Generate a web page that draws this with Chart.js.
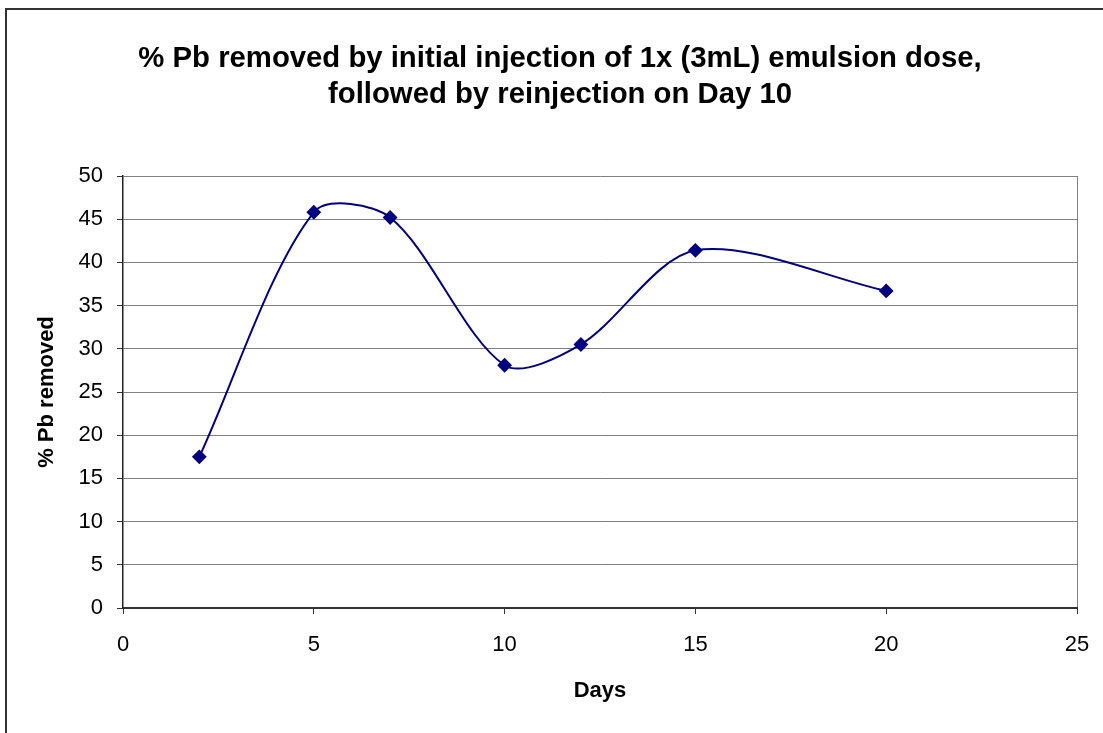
<!DOCTYPE html>
<html>
<head>
<meta charset="utf-8">
<script src="https://cdn.jsdelivr.net/npm/chart.js@4"></script>
<style>
  body { margin: 0; background: #fff; }
  #wrap { position: relative; width: 1103px; height: 733px; }
</style>
</head>
<body>
<div id="wrap"><canvas id="chart"></canvas></div>
<script>
// data
const days = [2, 5, 7, 10, 12, 15, 20];
const pbRemoved = [17.5, 45.8, 45.2, 28.1, 30.5, 41.4, 36.7];
const chartTitle = ['% Pb removed by initial injection of 1x (3mL) emulsion dose,', 'followed by reinjection on Day 10'];
const xTitle = 'Days';
const yTitle = '% Pb removed';

const FONT = "'Liberation Sans', Arial, sans-serif";

// outer frame of the original chart object (only left/top edges visible)
const framePlugin = {
    id: 'frame',
    beforeDraw(chart) {
        const ctx = chart.ctx;
        ctx.save();
        ctx.fillStyle = '#fff';
        ctx.fillRect(0, 0, chart.width, chart.height);
        ctx.strokeStyle = '#333';
        ctx.lineWidth = 2;
        ctx.beginPath();
        ctx.moveTo(6, chart.height);
        ctx.lineTo(6, 9);
        ctx.lineTo(chart.width, 9);
        ctx.stroke();
        ctx.restore();
    }
};

new Chart(document.getElementById('chart'), {
    type: 'line',
    data: {
        datasets: [{
            data: days.map((d, i) => ({ x: d, y: pbRemoved[i] })),
            borderColor: '#000080',
            backgroundColor: '#000080',
            borderWidth: 2,
            tension: 0.3,
            pointStyle: 'rectRot',
            pointRadius: 6,
            pointHoverRadius: 6,
            fill: false
        }]
    },
    options: {
        responsive: true,
        maintainAspectRatio: false,
        animation: false,
        layout: { padding: { left: 17, right: 0, top: 0, bottom: 0 } },
        plugins: {
            legend: { display: false },
            tooltip: { enabled: false },
            title: {
                display: true,
                text: chartTitle,
                color: '#000',
                font: { family: FONT, size: 29.3, weight: 'bold', lineHeight: 36 / 29.3 },
                padding: { top: 41, bottom: 63 }
            }
        },
        scales: {
            x: {
                type: 'linear',
                min: 0,
                max: 25,
                afterFit(scale) {
                    scale.height = 125;
                    scale.paddingLeft = 0;
                    scale.paddingRight = 0;
                },
                ticks: { stepSize: 5, color: '#000', padding: 18, font: { family: FONT, size: 22 } },
                grid: {
                    color: (c) => (c.tick && c.tick.value === 25) ? '#808080' : 'rgba(0,0,0,0)',
                    tickColor: '#333',
                    tickLength: 6,
                    lineWidth: 1
                },
                border: { color: '#333', width: 2 },
                title: {
                    display: true,
                    text: xTitle,
                    color: '#000',
                    font: { family: FONT, size: 22, weight: 'bold' },
                    padding: { top: 0, bottom: 29 }
                }
            },
            y: {
                min: 0,
                max: 50,
                afterFit(scale) { scale.width = 106; },
                ticks: { stepSize: 5, color: '#000', padding: 14, font: { family: FONT, size: 22 } },
                grid: { color: '#808080', tickColor: '#333', tickLength: 6, lineWidth: 1 },
                border: { color: '#222', width: 1.5 },
                title: {
                    display: true,
                    text: yTitle,
                    color: '#000',
                    font: { family: FONT, size: 22, weight: 'bold' },
                    padding: { top: 17, bottom: 0 }
                }
            },
            // empty right-hand strip, keeps the plot area off the right edge
            y2: {
                position: 'right',
                display: true,
                afterFit(scale) { scale.width = 26; },
                ticks: { display: false },
                grid: { display: false },
                border: { display: false }
            }
        }
    },
    plugins: [framePlugin]
});
</script>
</body>
</html>
